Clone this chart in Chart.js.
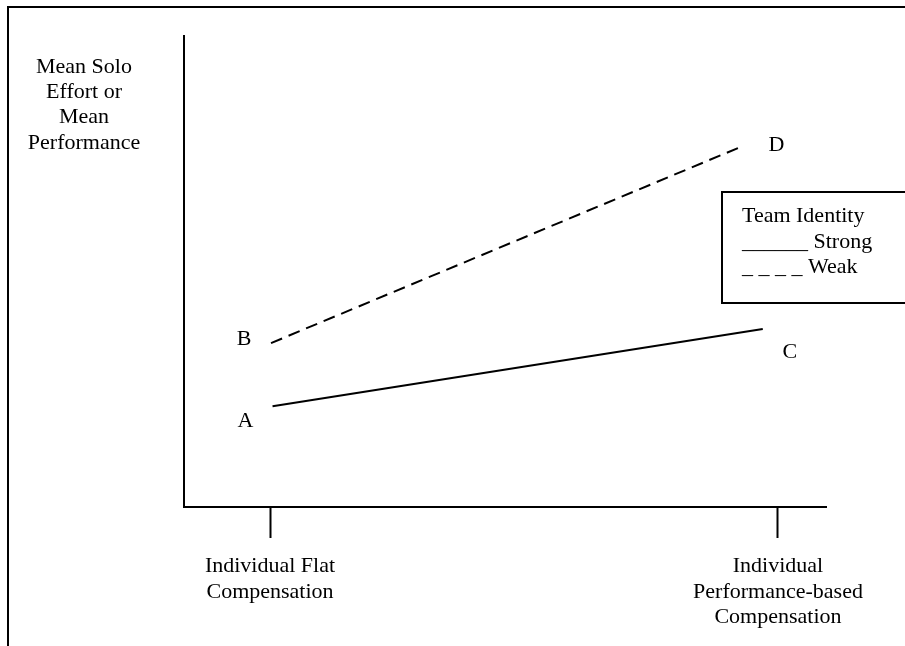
<!DOCTYPE html>
<html>
<head>
<meta charset="utf-8">
<script src="https://cdn.jsdelivr.net/npm/chart.js@4"></script>
<style>
  body { margin: 0; background: #fff; }
  canvas { display: block; }
</style>
</head>
<body>
<canvas id="chart" width="905" height="646"></canvas>
<script>
// categories on the x axis (tick at 0 and 1)
const categories = [
  ['Individual Flat', 'Compensation'],
  ['Individual', 'Performance-based', 'Compensation']
];
const tickValues = [0, 1];

// strong team identity (solid), points A -> C
const strongX = [0.005, 0.97];
const strongY = [21.4, 37.8];
const strongNames = ['A', 'C'];

// weak team identity (dashed), points B -> D
const weakX = [0.002, 0.93];
const weakY = [34.8, 76.6];
const weakNames = ['B', 'D'];

const yTitle = ['Mean Solo', 'Effort or', 'Mean', 'Performance'];
const legendTitle = 'Team Identity';
const legendRows = ['______ Strong', '_ _ _ _ Weak'];

const FONT = "'Liberation Serif', 'Times New Roman', serif";

function pts(xs, ys) {
  return xs.map((x, i) => ({ x: x, y: ys[i] }));
}

const paperPlugin = {
  id: 'paper',
  afterDraw(chart) {
    const ctx = chart.ctx;
    ctx.save();
    ctx.strokeStyle = '#000';
    ctx.lineWidth = 2;
    // outer frame, runs off the right and bottom edge
    ctx.strokeRect(8, 7, 930, 700);

    ctx.fillStyle = '#000';
    ctx.font = '22px ' + FONT;
    ctx.textBaseline = 'middle';

    // y axis caption
    ctx.textAlign = 'center';
    yTitle.forEach((t, i) => ctx.fillText(t, 84, 67 + i * 25.3));

    // point letters
    const offs = [[[-27, 15], [27, 23]], [[-27, -4], [34, -1]]];
    const names = [strongNames, weakNames];
    [0, 1].forEach(d => {
      chart.getDatasetMeta(d).data.forEach((p, j) => {
        ctx.fillText(names[d][j], p.x + offs[d][j][0], p.y + offs[d][j][1]);
      });
    });

    // legend box
    ctx.strokeRect(722, 192, 220, 111);
    ctx.textAlign = 'left';
    ctx.fillText(legendTitle, 742, 216);
    legendRows.forEach((t, i) => ctx.fillText(t, 742, 242 + i * 25.5));
    ctx.restore();
  }
};

new Chart(document.getElementById('chart'), {
  type: 'line',
  data: {
    datasets: [
      {
        label: 'Strong',
        data: pts(strongX, strongY),
        borderColor: '#000',
        borderWidth: 2,
        pointRadius: 0,
        tension: 0
      },
      {
        label: 'Weak',
        data: pts(weakX, weakY),
        borderColor: '#000',
        borderWidth: 2,
        borderDash: [12, 7],
        pointRadius: 0,
        tension: 0
      }
    ]
  },
  options: {
    responsive: false,
    animation: false,
    layout: { padding: { left: 184, top: 36, right: 79, bottom: 0 } },
    plugins: {
      legend: { display: false },
      tooltip: { enabled: false }
    },
    scales: {
      x: {
        type: 'linear',
        min: -0.1693,
        max: 1.0945,
        afterFit: s => { s.height = 139; },
        afterBuildTicks: s => { s.ticks = tickValues.map(v => ({ value: v })); },
        border: { display: true, color: '#000', width: 2 },
        grid: {
          drawOnChartArea: false,
          drawTicks: true,
          tickLength: 31,
          tickWidth: 2,
          tickColor: '#000'
        },
        ticks: {
          autoSkip: false,
          maxRotation: 0,
          minRotation: 0,
          padding: 16,
          color: '#000',
          font: { family: FONT, size: 22, lineHeight: 1.15 },
          callback: (v, i) => categories[i]
        }
      },
      y: {
        min: 0,
        max: 100,
        afterFit: s => { s.width = 0; },
        border: { display: true, color: '#000', width: 2 },
        grid: { drawOnChartArea: false, drawTicks: false },
        ticks: { display: false }
      }
    }
  },
  plugins: [paperPlugin]
});
</script>
</body>
</html>
